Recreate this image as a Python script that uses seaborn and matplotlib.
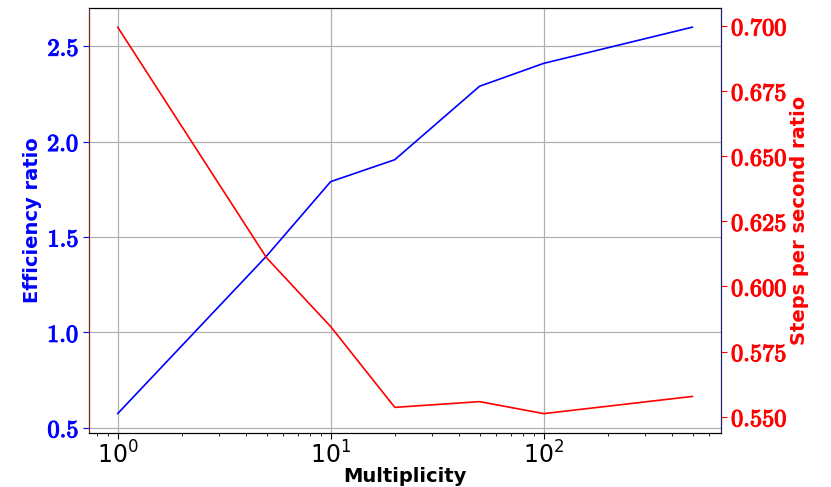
"""Efficiency and steps-per-second ratios against multiplicity."""

import matplotlib

matplotlib.use("Agg")
import matplotlib.patheffects as pe
import matplotlib.pyplot as plt
import pandas as pd
import seaborn as sns
from matplotlib.ticker import FuncFormatter


multiplicity = [1, 5, 10, 20, 50, 100, 500]
efficiency_ratio = [0.574, 1.40, 1.79, 1.905, 2.29, 2.41, 2.60]
steps_per_second_ratio = [0.6995, 0.611, 0.5846, 0.5536, 0.5558, 0.5512, 0.5578]

BLUE = "#0000ff"
RED = "#ff0000"


def bold_formatter(decimals: int) -> FuncFormatter:
    """Tick labels in bold Computer Modern."""
    return FuncFormatter(lambda value, _: rf"$\mathbf{{{value:.{decimals}f}}}$")


def thicken(axis, which: str, color: str) -> None:
    """Give the Computer Modern tick labels a heavier stroke."""
    for tick in axis.get_major_ticks():
        label = tick.label1 if which == "left" else tick.label2
        label.set_path_effects([pe.withStroke(linewidth=0.8, foreground=color)])


def main() -> None:
    sns.set_style("ticks")
    plt.rcParams["mathtext.fontset"] = "cm"
    plt.rcParams["font.family"] = ["DejaVu Sans"]
    plt.rcParams["text.color"] = "black"
    plt.rcParams["axes.labelcolor"] = "black"
    plt.rcParams["xtick.color"] = "black"

    frame = pd.DataFrame(
        {
            "multiplicity": multiplicity,
            "efficiency": efficiency_ratio,
            "steps": steps_per_second_ratio,
        }
    )

    fig = plt.figure(figsize=(8.31, 4.87), dpi=100)
    ax = fig.add_axes([0.107, 0.111, 0.761, 0.873])
    ax2 = ax.twinx()

    sns.lineplot(data=frame, x="multiplicity", y="efficiency", ax=ax, color=BLUE, linewidth=1.2)
    sns.lineplot(data=frame, x="multiplicity", y="steps", ax=ax2, color=RED, linewidth=1.2)

    ax.set_xscale("log")
    ax.grid(True, which="major", color="#b0b0b0", linewidth=0.9)
    ax.set_axisbelow(True)

    ax.set_xlabel("Multiplicity", fontsize=14, fontweight="bold", labelpad=-1)
    ax.set_ylabel("Efficiency ratio", fontsize=14, fontweight="bold", color=BLUE, labelpad=4)
    ax2.set_ylabel("Steps per second ratio", fontsize=14, fontweight="bold", color=RED, labelpad=2)

    ax.yaxis.set_major_formatter(bold_formatter(1))
    ax2.yaxis.set_major_formatter(bold_formatter(3))
    ax.set_yticks([0.5, 1.0, 1.5, 2.0, 2.5])
    ax2.set_yticks([0.55, 0.575, 0.6, 0.625, 0.65, 0.675, 0.7])

    ax.tick_params(axis="x", which="major", labelsize=17, length=4, width=0.8, pad=2)
    ax.tick_params(axis="x", which="minor", length=2, width=0.6)
    ax.tick_params(axis="y", colors=BLUE, labelsize=17.5, length=4, width=0.8, pad=3)
    ax2.tick_params(axis="y", colors=RED, labelsize=17.5, length=4, width=0.8, pad=3)

    thicken(ax.yaxis, "left", BLUE)
    thicken(ax2.yaxis, "right", RED)

    for spine in ax.spines.values():
        spine.set_color("black")
    ax2.spines["left"].set_color("#802020")
    ax2.spines["right"].set_color("#202070")
    ax2.spines["top"].set_color("black")
    ax2.spines["bottom"].set_color("black")

    fig.savefig("out.png", dpi=100)
    plt.close(fig)


if __name__ == "__main__":
    main()
